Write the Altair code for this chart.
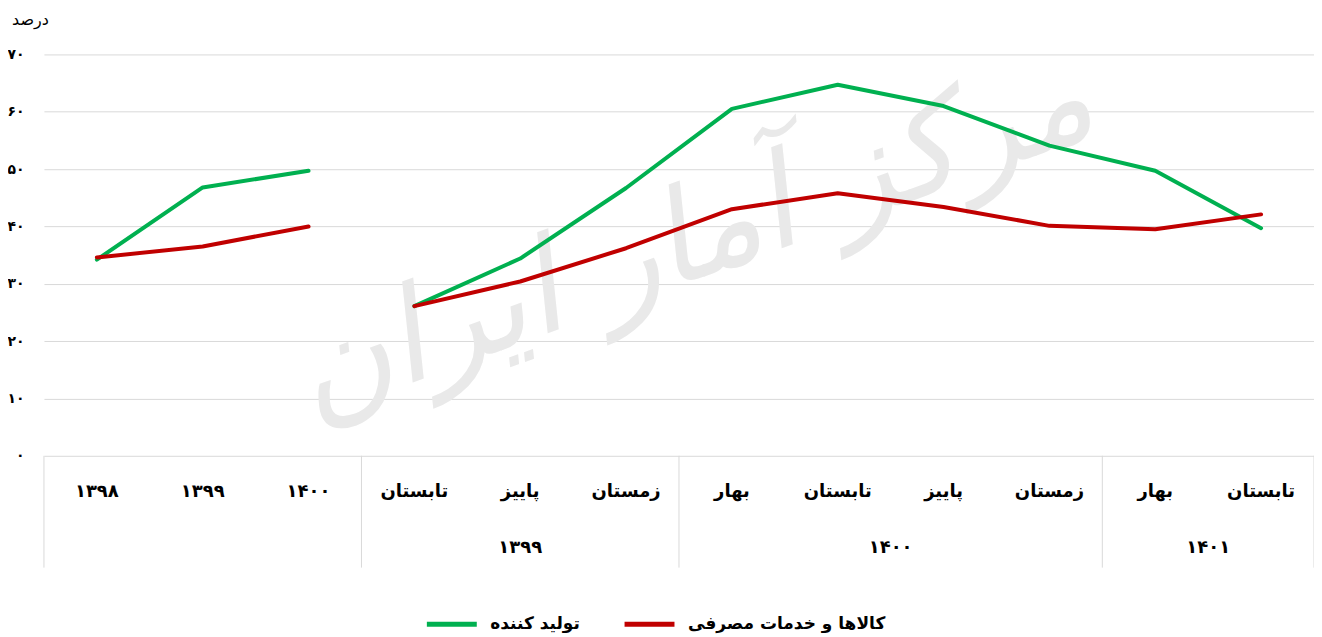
import altair as alt
import pandas as pd

# ---------------- data ----------------
categories = ["۱۳۹۸", "۱۳۹۹", "۱۴۰۰",
              "تابستان", "پاییز", "زمستان",
              "بهار", "تابستان", "پاییز", "زمستان",
              "بهار", "تابستان"]
group_names = ["", "۱۳۹۹", "۱۴۰۰", "۱۴۰۱"]
group_sizes = [3, 3, 4, 2]

series_names = ["تولید کننده", "کالاها و خدمات مصرفی"]
series_colors = ["#00b050", "#c00000"]

producer_annual = [34.2, 46.8, 49.7]
producer_quarterly = [26.1, 34.4, 46.7, 60.5, 64.7, 61.0, 54.1, 49.7, 39.7]
consumer_annual = [34.6, 36.5, 40.0]
consumer_quarterly = [26.1, 30.4, 36.2, 43.0, 45.8, 43.4, 40.1, 39.5, 42.1]

y_ticks = [0, 10, 20, 30, 40, 50, 60, 70]
y_tick_labels = ["۰", "۱۰", "۲۰", "۳۰", "۴۰", "۵۰", "۶۰", "۷۰"]
y_title = "درصد"
watermark = "مرکز آمار ایران"

FONT = "DejaVu Sans"

# ---------------- tables ----------------
rows = []
for name, annual, quarterly in [
    (series_names[0], producer_annual, producer_quarterly),
    (series_names[1], consumer_annual, consumer_quarterly),
]:
    for i, v in enumerate(annual):
        rows.append(dict(idx=i, value=v, series=name, seg="annual"))
    for j, v in enumerate(quarterly):
        rows.append(dict(idx=len(annual) + j, value=v, series=name, seg="quarterly"))
df = pd.DataFrame(rows)

cat_df = pd.DataFrame({"idx": list(range(len(categories))), "label": categories})

grp_rows, bounds = [], [-0.5]
start = 0
for gname, gsize in zip(group_names, group_sizes):
    grp_rows.append(dict(center=start + (gsize - 1) / 2, label=gname))
    start += gsize
    bounds.append(start - 0.5)
grp_df = pd.DataFrame(grp_rows)
bound_df = pd.DataFrame({"b": bounds})

W, H = 1272, 402
xscale = alt.Scale(domain=[-0.5, len(categories) - 0.5], nice=False, zero=False)
label_expr = "[" + ",".join("'%s'" % s for s in y_tick_labels) + "][round(datum.value/%d)]" % (y_ticks[1] - y_ticks[0])

color = alt.Color(
    "series:N",
    scale=alt.Scale(domain=series_names, range=series_colors),
    legend=alt.Legend(title=None),
)

wm = alt.Chart(pd.DataFrame({"t": [watermark]})).mark_text(
    font=FONT, fontSize=130, color="#e9e9e9", angle=340, fontStyle="italic"
).encode(text="t:N", x=alt.value(650), y=alt.value(185))

def line_layer(name):
    return alt.Chart(df).transform_filter(alt.datum.series == name).mark_line(
        strokeWidth=4, strokeCap="round", strokeJoin="round"
    ).encode(
        x=alt.X("idx:Q", scale=xscale, axis=None),
        y=alt.Y(
            "value:Q",
            scale=alt.Scale(domain=[y_ticks[0], y_ticks[-1]], nice=False),
            axis=alt.Axis(
                values=y_ticks, labelExpr=label_expr, grid=True, gridColor="#d9d9d9",
                domain=False, ticks=False, labelPadding=20, labelFont=FONT,
                labelFontSize=14, labelColor="#000000", labelFontWeight="bold",
                title=y_title, titleAngle=0, titleAlign="center", titleBaseline="middle",
                titleX=-14, titleY=-35, titleFont=FONT, titleFontSize=16,
                titleFontWeight="normal", titleColor="#000000",
            ),
        ),
        color=color,
        detail="seg:N",
    )

cats = alt.Chart(cat_df).mark_text(
    font=FONT, fontSize=18, fontWeight="bold", color="#000000", baseline="middle"
).encode(x=alt.X("idx:Q", scale=xscale, axis=None), y=alt.value(438), text="label:N")

grps = alt.Chart(grp_df).mark_text(
    font=FONT, fontSize=18, fontWeight="bold", color="#000000", baseline="middle"
).encode(x=alt.X("center:Q", scale=xscale, axis=None), y=alt.value(494), text="label:N")

seps = alt.Chart(bound_df).mark_rule(color="#d9d9d9", strokeWidth=1).encode(
    x=alt.X("b:Q", scale=xscale, axis=None), y=alt.value(H), y2=alt.value(H + 112)
)

chart = alt.layer(
    wm, line_layer(series_names[0]), line_layer(series_names[1]), seps, cats, grps
).properties(
    width=W, height=H,
    autosize=alt.AutoSizeParams(type="none"),
    padding={"left": 36, "top": 46, "right": 0, "bottom": 178},
).configure_view(stroke=None).configure_legend(
    orient="none", legendX=381, legendY=543, direction="horizontal",
    symbolType="stroke", symbolStrokeWidth=5, symbolSize=2500,
    labelFont=FONT, labelFontSize=17, labelFontWeight="bold", labelColor="#000000",
    labelLimit=400, columnPadding=34, labelOffset=11,
)

chart.save("out.html", embed_options={"renderer": "svg", "actions": False})
